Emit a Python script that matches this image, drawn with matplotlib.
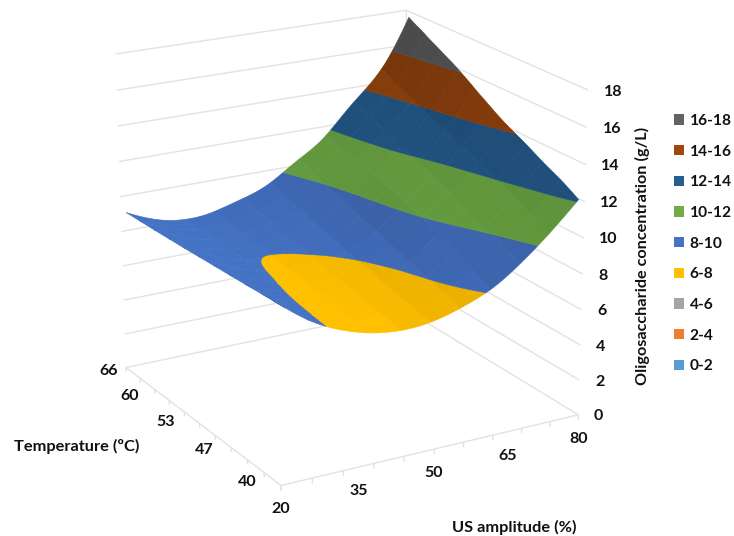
import numpy as np
import matplotlib
matplotlib.use('Agg')
import matplotlib.pyplot as plt
import matplotlib.tri as mtri
from matplotlib.colors import to_rgb
from matplotlib.patches import Patch

plt.rcParams['font.family'] = ['Lato', 'DejaVu Sans']
plt.rcParams['font.weight'] = 'bold'

# Data
amplitude = [20, 26, 32, 38, 44, 50, 56, 62, 68, 74, 80]
temperature = [40, 42.6, 45.2, 47.8, 50.4, 53, 55.6, 58.2, 60.8, 63.4, 66]
# one list per amplitude, going through the temperatures
z_a20 = [9.75, 9.70, 9.64, 9.59, 9.54, 9.49, 9.44, 9.40, 9.36, 9.33, 9.30]
z_a26 = [8.50, 8.53, 8.55, 8.57, 8.59, 8.60, 8.61, 8.61, 8.61, 8.61, 8.60]
z_a32 = [7.65, 7.74, 7.83, 7.92, 8.01, 8.07, 8.12, 8.16, 8.20, 8.25, 8.30]
z_a38 = [7.13, 7.28, 7.44, 7.58, 7.72, 7.85, 7.98, 8.10, 8.22, 8.34, 8.45]
z_a44 = [6.92, 7.14, 7.33, 7.52, 7.71, 7.90, 8.08, 8.30, 8.51, 8.70, 8.90]
z_a50 = [7.03, 7.25, 7.46, 7.69, 7.92, 8.14, 8.40, 8.69, 8.97, 9.26, 9.55]
z_a56 = [7.46, 7.76, 8.05, 8.33, 8.66, 8.99, 9.29, 9.60, 9.91, 10.24, 10.6]
z_a62 = [8.12, 8.62, 9.10, 9.55, 10.00, 10.36, 10.68, 10.95, 11.20, 11.48, 11.75]
z_a68 = [9.20, 9.72, 10.20, 10.65, 11.06, 11.47, 11.86, 12.25, 12.63, 13.01, 13.4]
z_a74 = [10.55, 11.06, 11.54, 12.00, 12.44, 12.87, 13.30, 13.74, 14.18, 14.62, 15.05]
z_a80 = [12.1, 12.7, 13.2, 13.75, 14.25, 14.85, 15.5, 16.15, 16.7, 17.25, 17.8]
Z = np.array([z_a20, z_a26, z_a32, z_a38, z_a44, z_a50, z_a56, z_a62, z_a68, z_a74, z_a80])

levels = [0, 2, 4, 6, 8, 10, 12, 14, 16, 18]
band_labels = ['0-2', '2-4', '4-6', '6-8', '8-10', '10-12', '12-14', '14-16', '16-18']
band_colors = ['#5B9BD5', '#ED7D31', '#A5A5A5', '#FFC000', '#4472C4',
               '#70AD47', '#255E91', '#9E480E', '#636363']
z_ticks = [0, 2, 4, 6, 8, 10, 12, 14, 16, 18]
amp_ticks = [20, 35, 50, 65, 80]
temp_ticks = [40, 47, 53, 60, 66]

# Calibration of the box: (u, v, z) -> pixel, u/v are 0-1 along amplitude/temperature
anchors = [
    (0, 0, 0, 281, 486), (1, 0, 0, 578, 414), (0, 1, 0, 126, 367), (1, 1, 0, 405, 310),
    (1, 0, 18, 588, 90), (0, 1, 18, 116, 54), (1, 1, 18, 406, 10),
    (1, 0, 8, 583, 274), (0, 1, 8, 121, 231), (1, 0, 12, 585, 202), (0, 1, 12, 119, 162),
]


def fit_camera(pts):
    rows = []
    for u, v, z, px, py in pts:
        z = z / 18
        px, py = px / 500, py / 500
        rows.append([u, v, z, 1, 0, 0, 0, 0, -px * u, -px * v, -px * z, -px])
        rows.append([0, 0, 0, 0, u, v, z, 1, -py * u, -py * v, -py * z, -py])
    return np.linalg.svd(np.array(rows))[2][-1].reshape(3, 4)


cam = fit_camera(anchors)


def project(u, v, z):
    u, v, z = np.broadcast_arrays(np.asarray(u, float), np.asarray(v, float), np.asarray(z, float))
    p = np.stack([u, v, z / 18, np.ones_like(u)], axis=-1) @ cam.T
    return 500 * p[..., 0] / p[..., 2], 500 * p[..., 1] / p[..., 2]


def line3d(a, b, **kw):
    xs, ys = project([a[0], b[0]], [a[1], b[1]], [a[2], b[2]])
    ax.plot(xs, ys, **kw)


fig = plt.figure(figsize=(7.34, 5.36), dpi=100)
ax = fig.add_axes([0, 0, 1, 1])
ax.set_xlim(0, 734)
ax.set_ylim(536, 0)
ax.axis('off')

grid = dict(color='#E2E2E2', lw=1.0, zorder=1, solid_capstyle='butt')

# walls
for z in z_ticks:
    line3d((1, 0, z), (1, 1, z), **grid)
    line3d((0, 1, z), (1, 1, z), **grid)
line3d((1, 1, 0), (1, 1, 18), **grid)

# floor edges and ticks
line3d((0, 0, 0), (1, 0, 0), **grid)
line3d((0, 0, 0), (0, 1, 0), **grid)
for t in np.arange(11) / 10:
    line3d((t, 0, 0), (t, 0, -0.3), **grid)
    line3d((0, t, 0), (0, t, -0.25), **grid)

# surface: smooth the table with matplotlib's own refiner, one patch per cell
# so each cell can get its own shade
amp = np.array(amplitude)
temp = np.array(temperature)
U, V = np.meshgrid(0.985 * (amp - 20) / 60, 0.01 + 0.95 * (temp - 40) / 26, indexing='ij')
na, nt = Z.shape
tris = []
for i in range(na - 1):
    for j in range(nt - 1):
        p = i * nt + j
        tris += [[p, p + 1, p + nt], [p + 1, p + nt + 1, p + nt]]
base = mtri.Triangulation(U.ravel(), V.ravel(), triangles=np.array(tris))
fine, fine_z = mtri.UniformTriRefiner(base).refine_field(Z.ravel(), subdiv=3)
fx, fy = project(fine.x, fine.y, fine_z)
mid_u = fine.x[fine.triangles].mean(axis=1)
mid_v = fine.y[fine.triangles].mean(axis=1)
cell_i = np.searchsorted(U[:, 0], mid_u) - 1
cell_j = np.searchsorted(V[0, :], mid_v) - 1

# darker where the surface climbs towards the right
dz = np.diff(Z, axis=0)[:, :-1]
shade = np.clip(0.02 + 0.085 * dz, 0, 0.3)
for i in range(na - 1):
    for j in range(nt - 1):
        keep = (cell_i == i) & (cell_j == j)
        patch = mtri.Triangulation(fx, fy, triangles=fine.triangles[keep])
        cols = [tuple(c * (1 - shade[i, j]) for c in to_rgb(b)) for b in band_colors]
        cs = ax.tricontourf(patch, fine_z, levels=levels, colors=cols, antialiased=True, zorder=2)
        cs.set_edgecolor('face')
        cs.set_linewidth(0.4)

# tick labels
for z in z_ticks:
    x0, y0 = project(1, 0, z)
    ax.text(x0 + 15.5, y0 + 1.5, str(z), fontsize=11.5, ha='left', va='center', color='#111111')
for a in amp_ticks:
    x0, y0 = project((a - 20) / 60, 0, 0)
    ax.text(x0, y0 + 24, str(a), fontsize=11.5, ha='center', va='center', color='#111111')
temp_offsets = [(-34, -3), (-32, -1), (-34, -2), (-29, 3), (-17, 4)]
for t, off in zip(temp_ticks, temp_offsets):
    x0, y0 = project(0, (t - 40) / 26, 0)
    ax.text(x0 + off[0], y0 + off[1], str(t), fontsize=11.5, ha='center', va='center', color='#111111')

# axis titles
ax.text(77, 446, 'Temperature (ºC)', fontsize=11.8, ha='center', va='center', color='#111111')
ax.text(514, 527, 'US amplitude (%)', fontsize=11.8, ha='center', va='center', color='#111111')
ax.text(642, 256, 'Oligosaccharide concentration (g/L)', fontsize=11.7, rotation=90,
        ha='center', va='center', color='#111111')

# legend, highest band on top
handles = [Patch(facecolor=c, edgecolor='none') for c in band_colors[::-1]]
ax.legend(handles, band_labels[::-1], loc='upper left', bbox_to_anchor=(674, 114),
          bbox_transform=ax.transData, frameon=False, fontsize=11.2, borderpad=0, borderaxespad=0,
          handlelength=0.65, handleheight=0.65, handletextpad=0.35, labelspacing=1.07,
          labelcolor='#111111')

fig.savefig('out.png', dpi=100)
